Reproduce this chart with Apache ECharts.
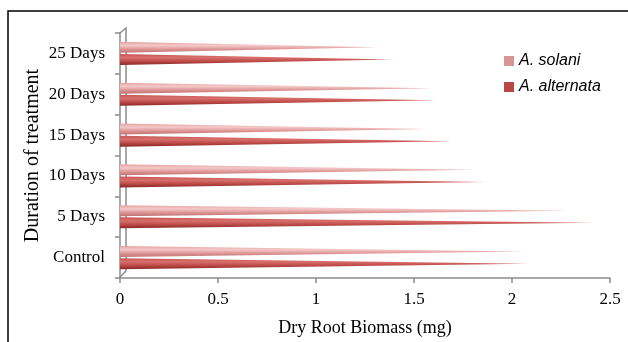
<!DOCTYPE html>
<html>
<head>
<meta charset="utf-8">
<script src="https://cdn.jsdelivr.net/npm/echarts@6/dist/echarts.min.js"></script>
<style>html,body{margin:0;padding:0;background:#fff}#c{width:628px;height:342px}</style>
</head>
<body>
<div id="c"></div>
<script>
var categories = ['Control', '5 Days', '10 Days', '15 Days', '20 Days', '25 Days'];
var solani = [2.06, 2.29, 1.81, 1.57, 1.59, 1.31];
var alternata = [2.08, 2.41, 1.86, 1.69, 1.61, 1.39];
var xTicks = { min: 0, max: 2.5, interval: 0.5 };

var chart = echarts.init(document.getElementById('c'));
var serif = 'Liberation Serif';
var cone = 'path://M0,0 L100,50 L0,100 Z';
function grad(stops) {
  return new echarts.graphic.LinearGradient(0, 0, 0, 1, stops.map(function (c, i) {
    return { offset: i / (stops.length - 1), color: c };
  }));
}
chart.setOption({
  animation: false,
  graphic: [
    { type: 'rect', shape: { x: 8, y: 11, width: 700, height: 400 }, style: { fill: 'none', stroke: '#000', lineWidth: 1.5 }, silent: true },
    { type: 'polyline', shape: { points: [[120, 33], [126, 28], [126, 271], [120, 277]] }, style: { fill: 'none', stroke: '#8c8c8c', lineWidth: 1.5 }, silent: true }
  ],
  legend: {
    orient: 'vertical',
    left: 499,
    top: 48,
    itemWidth: 10,
    itemHeight: 10,
    itemGap: 10,
    icon: 'rect',
    textStyle: { fontFamily: 'Liberation Sans', fontStyle: 'italic', fontSize: 16, color: '#000' },
    data: [
      { name: 'A. solani', itemStyle: { color: '#d99594' } },
      { name: 'A. alternata', itemStyle: { color: '#b84644' } }
    ]
  },
  grid: { left: 120, right: 18, top: 33, bottom: 64 },
  xAxis: {
    type: 'value',
    min: xTicks.min, max: xTicks.max, interval: xTicks.interval,
    axisLine: { show: true, lineStyle: { color: '#8c8c8c', width: 1.5 } },
    axisTick: { show: true, length: 5, lineStyle: { color: '#8c8c8c', width: 1.5 } },
    splitLine: { show: false },
    axisLabel: { fontFamily: serif, fontSize: 17, color: '#000', margin: 13 },
    name: 'Dry Root Biomass (mg)',
    nameLocation: 'middle',
    nameGap: 41,
    nameTextStyle: { fontFamily: serif, fontSize: 18, color: '#000' }
  },
  yAxis: {
    type: 'category',
    data: categories,
    axisLine: { show: true, lineStyle: { color: '#8c8c8c', width: 1.5 } },
    axisTick: { show: true, length: 5, lineStyle: { color: '#8c8c8c', width: 1.5 } },
    axisLabel: { fontFamily: serif, fontSize: 17, color: '#000', margin: 15 },
    name: 'Duration of treatment',
    nameLocation: 'middle',
    nameRotate: 90,
    nameGap: 77,
    nameMoveOverlap: false,
    nameTextStyle: { fontFamily: serif, fontSize: 20, color: '#000' }
  },
  series: [
    {
      name: 'A. solani',
      type: 'pictorialBar',
      symbol: cone,
      symbolSize: ['100%', '100%'],
      barWidth: 11,
      barGap: '10%',
      data: solani,
      itemStyle: { color: grad(['#e6a3a3', '#f4c8c8', '#de9595', '#bf7272']) }
    },
    {
      name: 'A. alternata',
      type: 'pictorialBar',
      symbol: cone,
      symbolSize: ['100%', '100%'],
      barWidth: 11,
      barGap: '10%',
      data: alternata,
      itemStyle: { color: grad(['#c55552', '#d8706d', '#bd4a47', '#882825']) }
    }
  ]
});
</script>
</body>
</html>
